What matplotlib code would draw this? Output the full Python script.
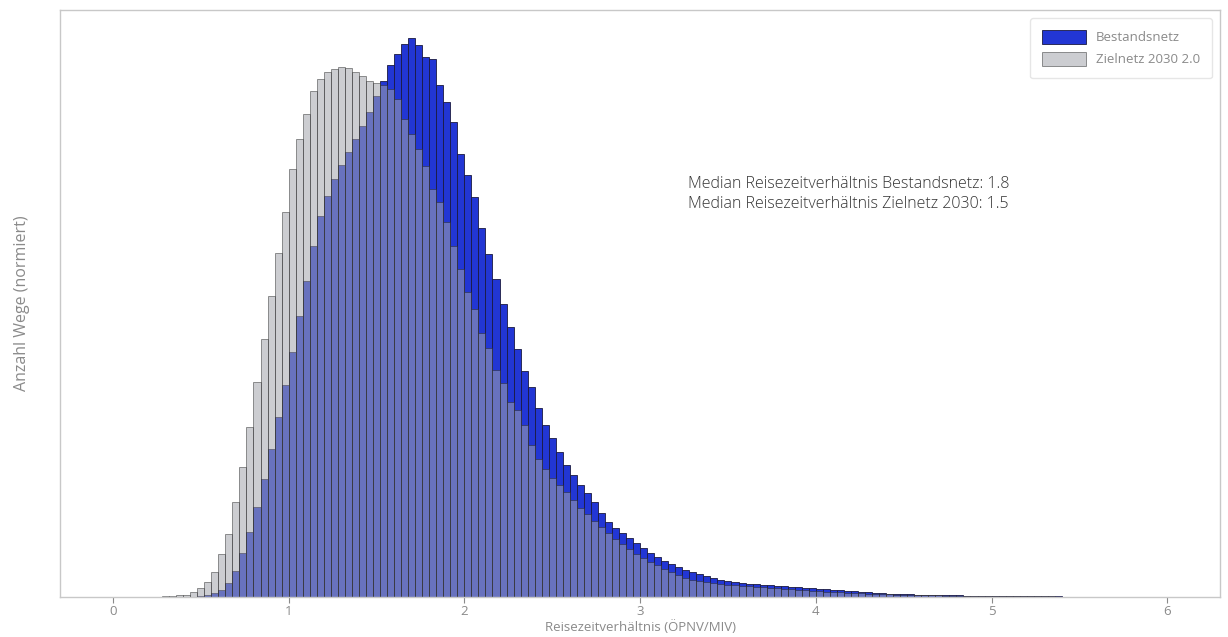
import numpy as np
import matplotlib
matplotlib.use("Agg")
import matplotlib.pyplot as plt

# bin edges: 0 .. 6 in steps of 0.04 (150 bins)
bin_width = 0.04
n_bins = 150

# Anzahl Wege per bin, normalised (peak of Bestandsnetz ~ 558)
bestand = [0] * 12 + [
    1, 2, 4, 7, 14, 26, 44, 65, 90, 118,            # 12-21
    148, 180, 212, 245, 280, 315, 350, 380, 400, 417,  # 22-31
    431, 444, 457, 470, 484, 500, 515, 531, 542, 552,  # 32-41
    558, 551, 539, 537, 511, 494, 474, 442, 421, 399,  # 42-51
    368, 342, 317, 292, 270, 248, 226, 210, 189, 172,  # 52-61
    159, 145, 132, 122, 112, 104, 95, 84, 75, 69,      # 62-71
    64, 59, 54, 49, 44, 40, 36, 33, 30, 27,            # 72-81
    25, 23, 21, 19, 17, 16, 15, 14, 13, 12.5,          # 82-91
    12, 11.5, 11, 10.5, 10, 9.5, 9, 8.5, 8, 7.5,       # 92-101
    7, 6.5, 6, 5.5, 5, 4.5, 4, 3.6, 3.2, 3,            # 102-111
    2.7, 2.4, 2.2, 2, 1.9, 1.8, 1.6, 1.5, 1.4, 1.2,    # 112-121
    1.1, 1, 0.9, 0.8, 0.8, 0.7, 0.6, 0.6, 0.5, 0.5,    # 122-131
    0.4, 0.4, 0.4, 0.3, 0.3, 0.3, 0.3, 0.2, 0.2, 0.2,  # 132-141
    0.2, 0.2, 0.1, 0.1, 0.1, 0.1, 0.1, 0.1,            # 142-149
]

zielnetz = [0] * 7 + [
    0.5, 1, 1.5, 2, 5, 9, 15, 25, 43, 63,              # 7-16
    95, 130, 170, 215, 258, 300, 343, 384, 427, 457,   # 17-26
    482, 505, 517, 524, 527, 529, 528, 524, 520, 515,  # 27-36
    513, 511, 507, 497, 477, 462, 447, 430, 407, 394,  # 37-46
    374, 350, 327, 304, 287, 264, 249, 227, 214, 195,  # 47-56
    187, 172, 152, 138, 128, 119, 112, 105, 97, 89,    # 57-66
    83, 76, 70, 64, 58, 53, 48, 43, 39, 35,            # 67-76
    32, 28, 25, 22, 19, 17, 16, 15, 14, 13,            # 77-86
    12, 11.5, 11, 10.5, 10, 9.5, 9, 8.5, 8, 7.5,       # 87-96
    7, 6.5, 6, 5.6, 5.2, 4.8, 4.4, 4, 3.7, 3.4,        # 97-106
    3.1, 2.8, 2.6, 2.4, 2.2, 2, 1.8, 1.7, 1.6, 1.5,    # 107-116
    1.4, 1.3, 1.2, 1.1, 1.0, 0.9, 0.8, 0.8, 0.7, 0.6,  # 117-126
    0.6, 0.5, 0.5, 0.5, 0.4, 0.4, 0.4, 0.3, 0.3, 0.3,  # 127-136
    0.3, 0.2, 0.2, 0.2, 0.2, 0.2, 0.1, 0.1, 0.1, 0.1,  # 137-146
    0.1, 0.1, 0.1,                                     # 147-149
]

labels = ["Bestandsnetz", "Zielnetz 2030 2.0"]
median_text = ("Median Reisezeitverhältnis Bestandsnetz: 1.8\n"
               "Median Reisezeitverhältnis Zielnetz 2030: 1.5")

plt.rcParams["font.family"] = ["Open Sans", "DejaVu Sans"]

edges = np.arange(n_bins) * bin_width

fig = plt.figure(figsize=(12.28, 6.37), dpi=100)
ax = fig.add_axes([0.049, 0.063, 0.9445, 0.921])

ax.bar(edges, bestand, width=bin_width, align="edge", color="#2236d4",
       edgecolor="#1a1a40", linewidth=0.6, label=labels[0])
ax.bar(edges, zielnetz, width=bin_width, align="edge", color="#a2a4ac",
       alpha=0.55, edgecolor="#222222", linewidth=0.6, label=labels[1])

ax.set_xlim(-0.3, 6.3)
ax.set_ylim(0, max(bestand) * 1.05)
ax.set_yticks([])
ax.set_xticks(range(7))

grey = "#8a8a8a"
for s in ax.spines.values():
    s.set_color("#c8c8c8")
    s.set_linewidth(1.0)
ax.tick_params(axis="x", colors=grey, labelsize=9.5, length=4, width=0.8, pad=2)

ax.set_xlabel("Reisezeitverhältnis (ÖPNV/MIV)", color=grey, fontsize=9.5, labelpad=1)
ax.set_ylabel("Anzahl Wege (normiert)", color=grey, fontsize=11.5, labelpad=22)

ax.text(0.541, 0.687, median_text, transform=ax.transAxes, fontsize=11.5,
        color="#333333", va="center", ha="left", linespacing=1.3,
        fontweight="light")

leg = ax.legend(loc="upper right", fontsize=9.5, frameon=True, borderpad=0.9,
                handlelength=3.3, handleheight=1.2, labelspacing=0.6,
                borderaxespad=0.6)
leg.get_frame().set_edgecolor("#e0e0e0")
for t in leg.get_texts():
    t.set_color(grey)

fig.savefig("out.png", dpi=100)
